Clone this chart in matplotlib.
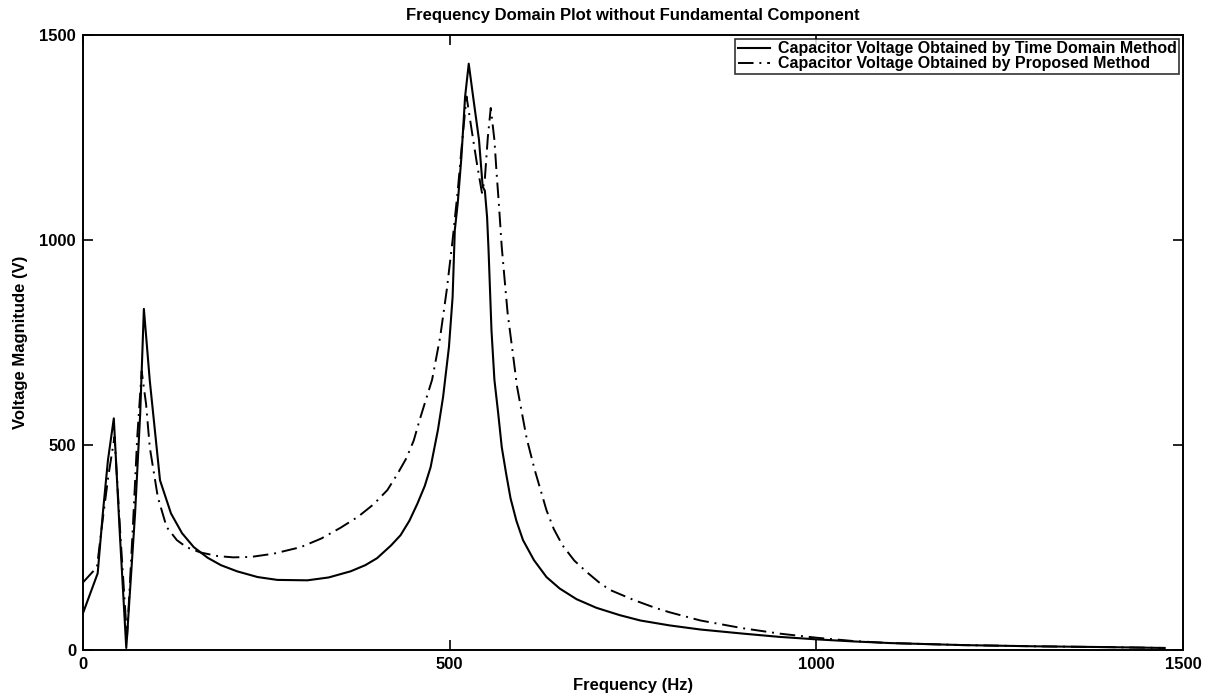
import numpy as np
import matplotlib.pyplot as plt

# time domain result
freq_td = [0, 20, 27, 34, 42, 50, 59, 71, 78, 83, 91, 98, 105, 120, 135, 151,
           170, 188, 210, 238, 265, 306, 335, 365, 385, 401, 420, 433, 445, 456,
           466, 474, 484, 491, 499, 504, 507, 511, 516, 521, 526, 532, 540, 545,
           548, 551, 553, 557, 561, 566, 571, 577, 583, 591, 600, 615, 632, 650,
           673, 700, 732, 760, 800, 842, 900, 950, 1000, 1050, 1100, 1200, 1300,
           1400, 1475]
volt_td = [90, 187, 333, 463, 565, 290, 5, 333, 577, 832, 658, 536, 414, 333, 285, 251,
           225, 207, 192, 178, 171, 170, 177, 192, 207, 224, 255, 280, 315, 357,
           400, 446, 537, 617, 739, 861, 1024, 1090, 1202, 1349, 1430, 1349, 1244, 1130,
           1120, 1056, 976, 780, 659, 580, 495, 430, 370, 315, 268, 219, 178, 150,
           124, 103, 85, 72, 60, 50, 40, 32, 26, 21, 17, 12, 9,
           7, 5]

# proposed method result
freq_pm = [0, 19, 27, 35, 43, 51, 60, 68, 74, 80, 86, 91, 102, 114, 128, 141,
           160, 184, 205, 229, 260, 297, 325, 351, 375, 396, 415, 429, 441, 451,
           459, 476, 487, 496, 504, 511, 517, 523, 530, 537, 544, 548, 552, 556,
           561, 564, 567, 571, 575, 579, 585, 592, 605, 616, 632, 642, 654, 670,
           687, 703, 718, 751, 780, 800, 842, 900, 950, 1000, 1050, 1100, 1200,
           1300, 1400, 1475]
volt_pm = [165, 202, 320, 430, 520, 280, 30, 300, 520, 680, 600, 495, 373, 300, 268, 251,
           238, 229, 226, 227, 235, 251, 272, 298, 325, 355, 390, 430, 468, 511,
           561, 659, 763, 878, 1000, 1120, 1240, 1350, 1268, 1188, 1115, 1150, 1250, 1322,
           1244, 1163, 1090, 983, 902, 822, 739, 641, 516, 439, 341, 295, 255, 218,
           190, 166, 147, 122, 103, 92, 72, 53, 40, 30, 22, 17, 12,
           9, 7, 5]

plt.rcParams['font.family'] = ['Liberation Sans', 'DejaVu Sans']

fig = plt.figure(figsize=(12.1, 7.0), dpi=100)
ax = fig.add_axes([0.0686, 0.0714, 0.9091, 0.8786])

ax.plot(freq_td, volt_td, color='black', linewidth=1.5,
        label='Capacitor Voltage Obtained by Time Domain Method')
ax.plot(freq_pm, volt_pm, color='black', linewidth=1.4, dashes=(8, 3, 1, 3),
        label='Capacitor Voltage Obtained by Proposed Method')

ax.set_xlim(0, 1500)
ax.set_ylim(0, 1500)
ax.set_xticks([0, 500, 1000, 1500])
ax.set_yticks([0, 500, 1000, 1500])
ax.tick_params(direction='in', length=7, width=1.2, top=True, right=True,
               labelsize=12, pad=5)
for lbl in ax.get_xticklabels() + ax.get_yticklabels():
    lbl.set_fontweight('bold')
for sp in ax.spines.values():
    sp.set_linewidth(1.4)

ax.set_title('Frequency Domain Plot without Fundamental Component',
             fontsize=12, fontweight='bold', pad=11)
ax.set_xlabel('Frequency (Hz)', fontsize=12, fontweight='bold', labelpad=4)
ax.set_ylabel('Voltage Magnitude (V)', fontsize=12, fontweight='bold', labelpad=8)

leg = ax.legend(loc='upper right', fontsize=11.5, frameon=True, fancybox=False,
                edgecolor='black', handlelength=2.0, borderpad=0.15,
                labelspacing=0.0, borderaxespad=0.25, handletextpad=0.5)
leg.get_frame().set_linewidth(1.2)
for t in leg.get_texts():
    t.set_fontweight('bold')

fig.savefig('out.png', dpi=100)
